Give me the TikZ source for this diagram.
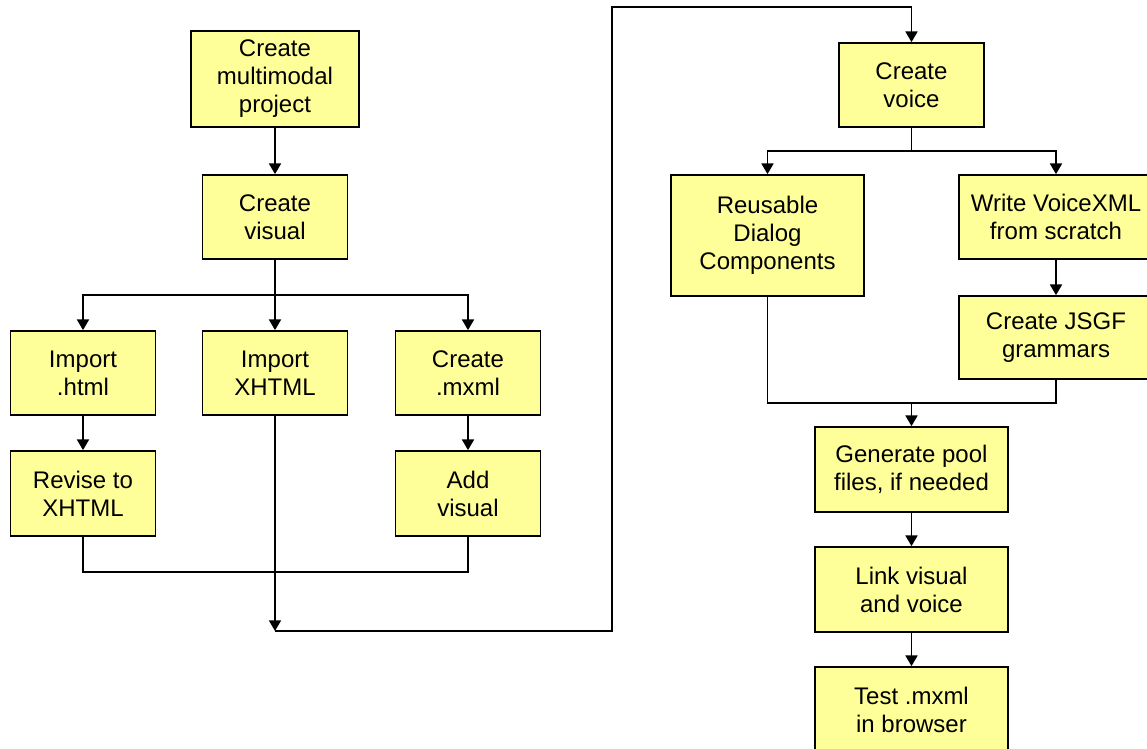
\documentclass[tikz,border=0pt]{standalone}
\usepackage{fontspec}
\setmainfont{Liberation Sans}
\usetikzlibrary{arrows.meta}
\definecolor{boxfill}{RGB}{255,255,153}
\begin{document}
\begin{tikzpicture}[x=0.75pt,y=-0.75pt,
  box/.style={draw=black, fill=boxfill, line width=1.3pt, align=center, inner sep=0pt,
    font=\fontsize{18}{21}\selectfont},
  small/.style={box, minimum width=108.75pt, minimum height=63pt},
  wide/.style={box, minimum width=144.75pt, minimum height=63.75pt},
  conn/.style={line width=1.3pt, draw=black},
  arr/.style={conn, -{Triangle[width=9pt,length=8pt]}}]
\useasboundingbox (0,0) rectangle (1147,749);
\fill[white] (0,0) rectangle (1147,749);
\begin{scope}
\clip (0,0) rectangle (1147,749);
% left column
\node[box, minimum width=126pt, minimum height=72pt] (proj) at (275,79) {Create\\multimodal\\project};
\node[small] (vis) at (275,217) {Create\\visual};
\node[small] (imp1) at (83,373) {Import\\.html};
\node[small] (imp2) at (275,373) {Import\\XHTML};
\node[small] (cmx) at (468,373) {Create\\.mxml};
\node[small, minimum height=63.75pt] (rev) at (83,493.5) {Revise to\\XHTML};
\node[small, minimum height=63.75pt] (add) at (468,493.5) {Add\\visual};
% right column
\node[small] (voice) at (911.5,85) {Create\\voice};
\node[box, minimum width=144.75pt, minimum height=90.75pt] (reuse) at (767.5,235.5) {Reusable\\Dialog\\Components};
\node[box, minimum width=145.5pt, minimum height=63pt] (write) at (1056,217) {Write VoiceXML\\from scratch};
\node[box, minimum width=145.5pt, minimum height=62.25pt] (jsgf) at (1056,337.5) {Create JSGF\\grammars};
\node[wide] (gen) at (911.5,469.5) {Generate pool\\files, if needed};
\node[wide] (link) at (911.5,589.5) {Link visual\\and voice};
\node[wide] (test) at (911.5,709.5) {Test .mxml\\in browser};
% connectors left
\draw[arr] (proj.south) -- (vis.north);
\coordinate (b1) at (275,295);
\draw[conn] (vis.south) -- (b1);
\draw[arr] (b1) -| (imp1.north);
\draw[arr] (b1) -- (imp2.north);
\draw[arr] (b1) -| (cmx.north);
\draw[arr] (imp1.south) -- (rev.north);
\draw[arr] (cmx.south) -- (add.north);
\coordinate (m1) at (275,572);
\draw[conn] (rev.south) |- (m1) -| (add.south);
\coordinate (c1) at (275,631);
\coordinate (c2) at (612,7);
\draw[arr] (imp2.south) -- (c1);
\draw[arr] (c1) -| (c2) -| (voice.north);
% connectors right
\coordinate (b2) at (911.5,151);
\draw[conn] (voice.south) -- (b2);
\draw[arr] (b2) -| (reuse.north);
\draw[arr] (b2) -| (write.north);
\draw[arr] (write.south) -- (jsgf.north);
\coordinate (m2) at (911.5,403);
\draw[conn] (reuse.south) |- (m2) -| (jsgf.south);
\draw[arr] (m2) -- (gen.north);
\draw[arr] (gen.south) -- (link.north);
\draw[arr] (link.south) -- (test.north);
\end{scope}
\end{tikzpicture}
\end{document}
